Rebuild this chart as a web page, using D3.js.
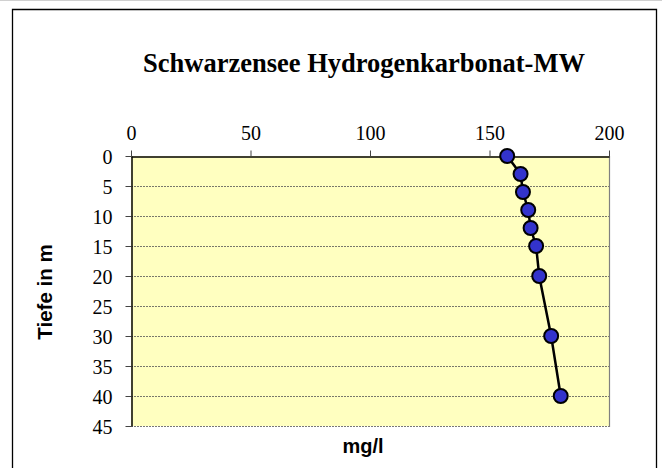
<!DOCTYPE html>
<html><head><meta charset="utf-8">
<script src="https://cdn.jsdelivr.net/npm/d3@7/dist/d3.min.js"></script>
<style>body{margin:0;background:#fff}svg{display:block}</style>
</head><body><svg id="c" width="662" height="468"></svg>
<script>
const depths = [0, 3, 6, 9, 12, 15, 20, 30, 40];
const values = [157.4, 163.0, 164.0, 166.2, 167.2, 169.5, 170.8, 175.8, 179.8];
const xTicks = [0, 50, 100, 150, 200];
const yTicks = [0, 5, 10, 15, 20, 25, 30, 35, 40, 45];
const title = "Schwarzensee Hydrogenkarbonat-MW";
const xTitle = "mg/l";
const yTitle = "Tiefe in m";

const svg = d3.select("#c");
const L = 131, R = 609, T = 156, B = 426;
const x = d3.scaleLinear().domain([0, 200]).range([L, R]);
const y = d3.scaleLinear().domain([0, 45]).range([T, B]);

// outer frame
svg.append("line").attr("x1",0).attr("x2",662).attr("y1",0.5).attr("y2",0.5).attr("stroke","#d0d0d0");
svg.append("path").attr("d","M12.5,468V9.5H656.5V468").attr("fill","none").attr("stroke","#000").attr("stroke-width",1.3);

// plot area
svg.append("rect").attr("x",L).attr("y",T).attr("width",R-L).attr("height",B-T).attr("fill","#FFFFC0");

// gridlines
svg.append("g").selectAll("line").data(yTicks.filter(d=>d>0)).join("line")
  .attr("x1",L).attr("x2",R).attr("y1",d=>Math.round(y(d))+0.5).attr("y2",d=>Math.round(y(d))+0.5)
  .attr("stroke","#555").attr("stroke-width",0.8).attr("stroke-dasharray","2,1");

// right border gray
svg.append("line").attr("x1",R+0.5).attr("x2",R+0.5).attr("y1",T).attr("y2",B+1).attr("stroke","#808080").attr("stroke-width",1.2);

// axes
const fontSerif = "'Times New Roman','Liberation Serif',serif";
const xa = svg.append("g").attr("transform",`translate(0,${T+0.5})`).call(d3.axisTop(x).tickValues(xTicks).tickSize(6).tickSizeOuter(0).tickPadding(11));
const ya = svg.append("g").attr("transform",`translate(${L+0.5},0)`).call(d3.axisLeft(y).tickValues(yTicks).tickSize(6).tickSizeOuter(0).tickPadding(13));
[xa, ya].forEach(a=>{
  a.selectAll("text").attr("font-family",fontSerif).attr("font-size",20).attr("fill","#000");
  a.selectAll(".tick line").attr("stroke","#444");
});
xa.select(".domain").attr("stroke","#000").attr("stroke-width",1.5);
ya.select(".domain").attr("stroke","#000").attr("stroke-width",1.5);
ya.selectAll("text").attr("dy","0.35em");

// line and markers
const line = d3.line().x((d,i)=>x(values[i])).y(d=>y(d));
svg.append("path").datum(depths).attr("d",line).attr("fill","none").attr("stroke","#000").attr("stroke-width",2.5);
svg.append("g").selectAll("circle").data(depths).join("circle")
  .attr("cx",(d,i)=>x(values[i])).attr("cy",d=>y(d)).attr("r",7)
  .attr("fill","#3333CC").attr("stroke","#000").attr("stroke-width",2);

// titles
svg.append("text").attr("x",364).attr("y",72).attr("text-anchor","middle")
  .attr("font-family",fontSerif).attr("font-weight","bold").attr("font-size",26.5).text(title);
svg.append("text").attr("x",363).attr("y",453).attr("text-anchor","middle")
  .attr("font-family","Arial,'Liberation Sans',sans-serif").attr("font-weight","bold").attr("font-size",20).text(xTitle);
svg.append("text").attr("transform","translate(52,292) rotate(-90)").attr("text-anchor","middle")
  .attr("font-family","Arial,'Liberation Sans',sans-serif").attr("font-weight","bold").attr("font-size",20.5).text(yTitle);
</script></body></html>
